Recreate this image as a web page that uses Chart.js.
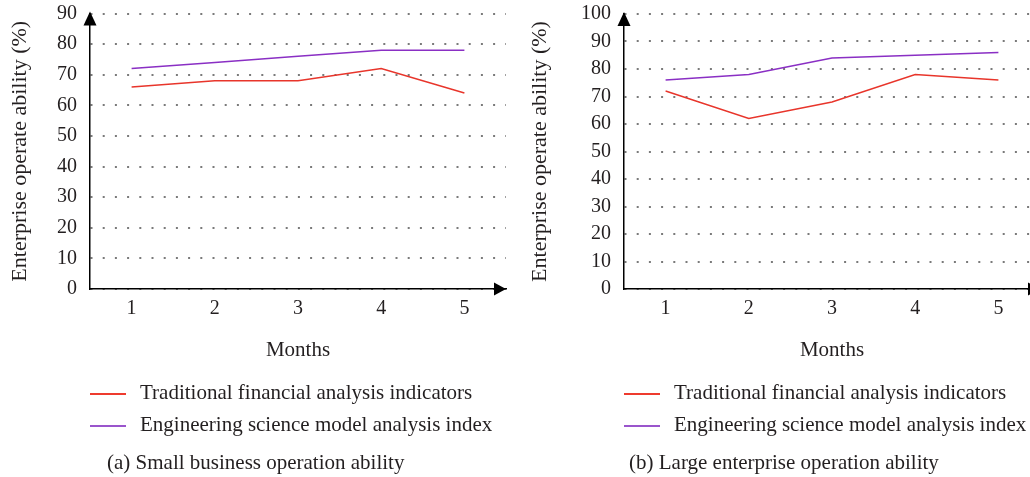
<!DOCTYPE html>
<html>
<head>
<meta charset="utf-8">
<script src="https://cdn.jsdelivr.net/npm/chart.js@4"></script>
<style>
  html, body { margin: 0; padding: 0; width: 1030px; height: 477px; overflow: hidden; background: #fff; }
  body { position: relative; font-family: "Liberation Serif", "Times New Roman", serif; color: #231f20; }
  .wrap { position: absolute; top: 0; height: 477px; }
  .txt { position: absolute; font-size: 21px; line-height: 24px; white-space: nowrap; }
  .swatch { position: absolute; height: 2px; width: 36px; }
</style>
</head>
<body>
<div class="wrap" id="wA" style="left:0;width:520px;"><canvas id="cA"></canvas></div>
<div class="wrap" id="wB" style="left:520px;width:530px;"><canvas id="cB"></canvas></div>
<div id="legends"></div>
<script>
// ---- data ----
const months = ['1', '2', '3', '4', '5'];
const seriesNames = ['Traditional financial analysis indicators', 'Engineering science model analysis index'];
const seriesColors = ['#e8352b', '#8a2fc4'];
const legendColors = ['#ee3b2e', '#9a55cc'];
const smallTraditional = [66, 68, 68, 72, 64];
const smallEngineering = [72, 74, 76, 78, 78];
const largeTraditional = [72, 62, 68, 78, 76];
const largeEngineering = [76, 78, 84, 85, 86];
const captions = ['(a) Small business operation ability', '(b) Large enterprise operation ability'];
const yTitle = 'Enterprise operate ability (%)';
const xTitle = 'Months';

const FONT = '"Liberation Serif", "Times New Roman", serif';
const TEXT = '#231f20';

const arrowPlugin = {
  id: 'arrows',
  afterDraw(chart) {
    const ctx = chart.ctx;
    const a = chart.chartArea;
    ctx.save();
    ctx.fillStyle = '#000';
    ctx.beginPath();
    ctx.moveTo(a.left, a.top - 2);
    ctx.lineTo(a.left - 6.5, a.top + 12);
    ctx.lineTo(a.left + 6.5, a.top + 12);
    ctx.closePath();
    ctx.fill();
    ctx.beginPath();
    ctx.moveTo(a.right, a.bottom);
    ctx.lineTo(a.right - 12, a.bottom - 6.5);
    ctx.lineTo(a.right - 12, a.bottom + 6.5);
    ctx.closePath();
    ctx.fill();
    ctx.restore();
  }
};

function makeChart(canvasId, trad, eng, yMax, yWidth, padRight, padTop) {
  return new Chart(document.getElementById(canvasId), {
    type: 'line',
    data: {
      labels: months,
      datasets: [
        { label: seriesNames[0], data: trad, borderColor: seriesColors[0], backgroundColor: seriesColors[0] },
        { label: seriesNames[1], data: eng, borderColor: seriesColors[1], backgroundColor: seriesColors[1] }
      ]
    },
    options: {
      responsive: true,
      maintainAspectRatio: false,
      animation: false,
      layout: { padding: { top: padTop, right: padRight, bottom: 110.4, left: 0 } },
      elements: { line: { borderWidth: 1.5, tension: 0 }, point: { radius: 0 } },
      plugins: { legend: { display: false }, tooltip: { enabled: false } },
      scales: {
        x: {
          type: 'category',
          offset: true,
          grid: { display: false, drawTicks: false },
          border: { display: true, color: '#000', width: 1.5 },
          ticks: { color: TEXT, font: { family: FONT, size: 20 }, padding: 8, maxRotation: 0 },
          title: { display: true, text: xTitle, color: TEXT, font: { family: FONT, size: 21 }, padding: { top: 4, bottom: 4 } },
          afterFit(s) { s.height = 77.6; }
        },
        y: {
          min: 0, max: yMax,
          ticks: { stepSize: 10, autoSkip: false, color: TEXT, font: { family: FONT, size: 20 }, padding: 13 },
          grid: { color: '#7a7a7a', lineWidth: 2, drawTicks: false },
          border: { display: true, color: '#000', width: 1.5, dash: [2, 10.2], dashOffset: 0 },
          title: { display: true, text: yTitle, color: TEXT, font: { family: FONT, size: 22 }, padding: { top: 6.8, bottom: 4 } },
          afterFit(s) { s.width = yWidth; s.paddingTop = 0; s.paddingBottom = 0; }
        }
      }
    },
    plugins: [arrowPlugin]
  });
}

makeChart('cA', smallTraditional, smallEngineering, 90, 90, 14, 13.5);
makeChart('cB', largeTraditional, largeEngineering, 100, 104, 10, 14);

const L = document.getElementById('legends');
function addLegend(left, capLeft, caption) {
  const rows = [394, 426];
  seriesNames.forEach((name, i) => {
    const sw = document.createElement('div');
    sw.className = 'swatch';
    sw.style.left = left + 'px';
    sw.style.top = (rows[i] - 1) + 'px';
    sw.style.background = legendColors[i];
    L.appendChild(sw);
    const t = document.createElement('div');
    t.className = 'txt';
    t.style.left = (left + 50) + 'px';
    t.style.top = (rows[i] - 14) + 'px';
    t.textContent = name;
    L.appendChild(t);
  });
  const c = document.createElement('div');
  c.className = 'txt';
  c.style.left = capLeft + 'px';
  c.style.top = (463 - 13) + 'px';
  c.textContent = caption;
  L.appendChild(c);
}
addLegend(90, 107, captions[0]);
addLegend(624, 629, captions[1]);
</script>
</body>
</html>
